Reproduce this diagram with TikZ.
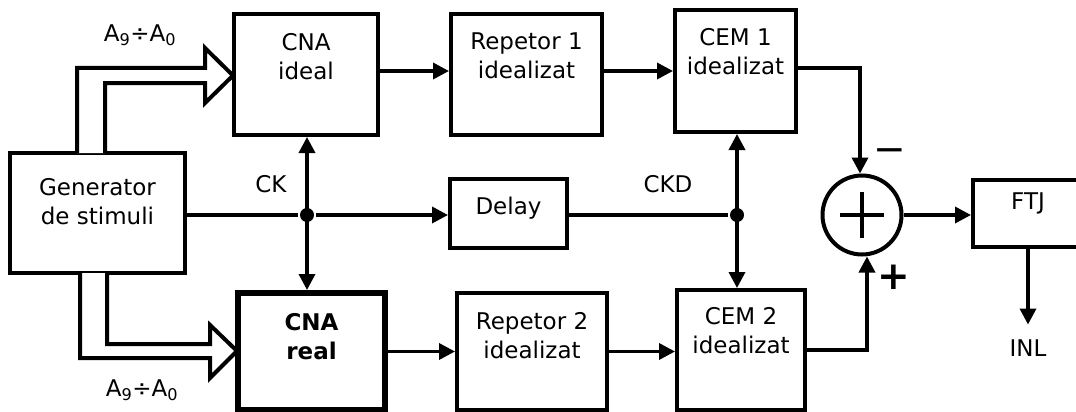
\documentclass[tikz,border=0pt]{standalone}
\usepackage{fontspec}
\setmainfont{DejaVu Sans}
\usetikzlibrary{arrows.meta}

\newcommand{\blkfont}{\fontsize{23}{29}\selectfont}

\begin{document}
\begin{tikzpicture}[x=1pt, y=-1pt,
            font=\blkfont,
            line width=3.5pt,
            >={Triangle[length=16pt, width=16pt]},
            blk/.style 2 args={draw, line width=4pt, minimum width=#1, minimum height=#2, inner sep=0},
            ttl/.style 2 args={label={[anchor=north, align=center, yshift=#2]north:#1}},
            dot/.style={circle, fill, inner sep=0, minimum size=14pt},
            sgn/.style={font=\fontsize{39}{39}\selectfont, inner sep=0}]
        \useasboundingbox (0,0) rectangle (1076,412);
        \clip (0,0) rectangle (1076,412);

        \node[blk={175pt}{120pt}, ttl={Generator\\de stimuli}{-22pt}] (gen) at (97.5,213) {};
        \node[blk={144pt}{121pt}, ttl={CNA\\ideal}{-16pt}] (cna1) at (306,74.5) {};
        \node[blk={151pt}{121pt}, ttl={Repetor 1\\idealizat}{-16pt}] (rep1) at (526.5,74.5) {};
        \node[blk={121pt}{122pt}, ttl={CEM 1\\idealizat}{-15pt}] (cem1) at (735.5,71) {};
        \node[blk={147pt}{117pt}, line width=6pt,
              label={[anchor=north, align=center, yshift=-18pt, font=\blkfont\bfseries]north:CNA\\real}] (cna2) at (311.5,351.5) {};
        \node[blk={150pt}{117pt}, ttl={Repetor 2\\idealizat}{-16pt}] (rep2) at (532,351.5) {};
        \node[blk={128pt}{120pt}, ttl={CEM 2\\idealizat}{-14pt}] (cem2) at (741,350) {};
        \node[blk={117pt}{69pt}, ttl={Delay}{-15pt}] (delay) at (508.5,213.5) {};
        \node[blk={110pt}{67pt}, ttl={FTJ}{-10pt}] (ftj) at (1028,213.5) {};
        \node[draw, circle, line width=4pt, minimum size=79pt, inner sep=0] (sum) at (862,215) {};
        \draw[line width=4pt] ([xshift=-22pt]sum.center) -- ([xshift=22pt]sum.center)
                              ([yshift=-23pt]sum.center) -- ([yshift=23pt]sum.center);

        \node[dot] (ck) at (307,215) {};
        \node[dot] (ckd) at (737,215) {};

        % labels
        \node (ckt) at (271,184) {CK};
        \node (ckdt) at (668,184) {CKD};
        \node (a1) at (140,35) {A\textsubscript{9}÷A\textsubscript{0}};
        \node (a2) at (142,390) {A\textsubscript{9}÷A\textsubscript{0}};
        \node (inl) at (1028,348) {INL};
        \node[sgn] (minus) at (890,156) {−};
        \node[sgn, font=\fontsize{39}{39}\selectfont\bfseries] (plus) at (894,277) {+};

        % bus arrows
        \draw[line width=4pt, fill=white] (77,153) -- (77,68) -- (205,68) -- (205,48) -- (233,75.5)
            -- (205,103) -- (205,83) -- (105,83) -- (105,153);
        \draw[line width=4pt, fill=white] (80,273) -- (80,358) -- (210,358) -- (210,378) -- (237,351)
            -- (210,325) -- (210,344) -- (107,344) -- (107,273);

        % signal path
        \draw[->] (cna1.east |- cem1.west) -- (rep1.west |- cem1.west);
        \draw[->] (rep1.east |- cem1.west) -- (cem1.west);
        \draw[->] (cna2.east) -- (rep2.west);
        \draw[->] (rep2.east) -- (cem2.west |- rep2.east);
        \draw[->] ([yshift=3pt]cem1.east) -| ([xshift=-2pt]sum.north);
        \draw[->] (cem2.east) -| ([xshift=5pt]sum.south);
        \draw[->] (sum.east) -- (sum.east -| ftj.west);
        \draw[->, shorten >=10pt] (ftj.south) -- (inl.north);

        % clocks
        \draw (gen.east |- ck) -- (ck);
        \draw[->] (ck) -- (delay.west |- ck);
        \draw[<->] (cna1.south -| ck) -- (cna2.north -| ck);
        \draw (delay.east |- ckd) -- (ckd);
        \draw[<->] (cem1.south -| ckd) -- (cem2.north -| ckd);
    \end{tikzpicture}
\end{document}
